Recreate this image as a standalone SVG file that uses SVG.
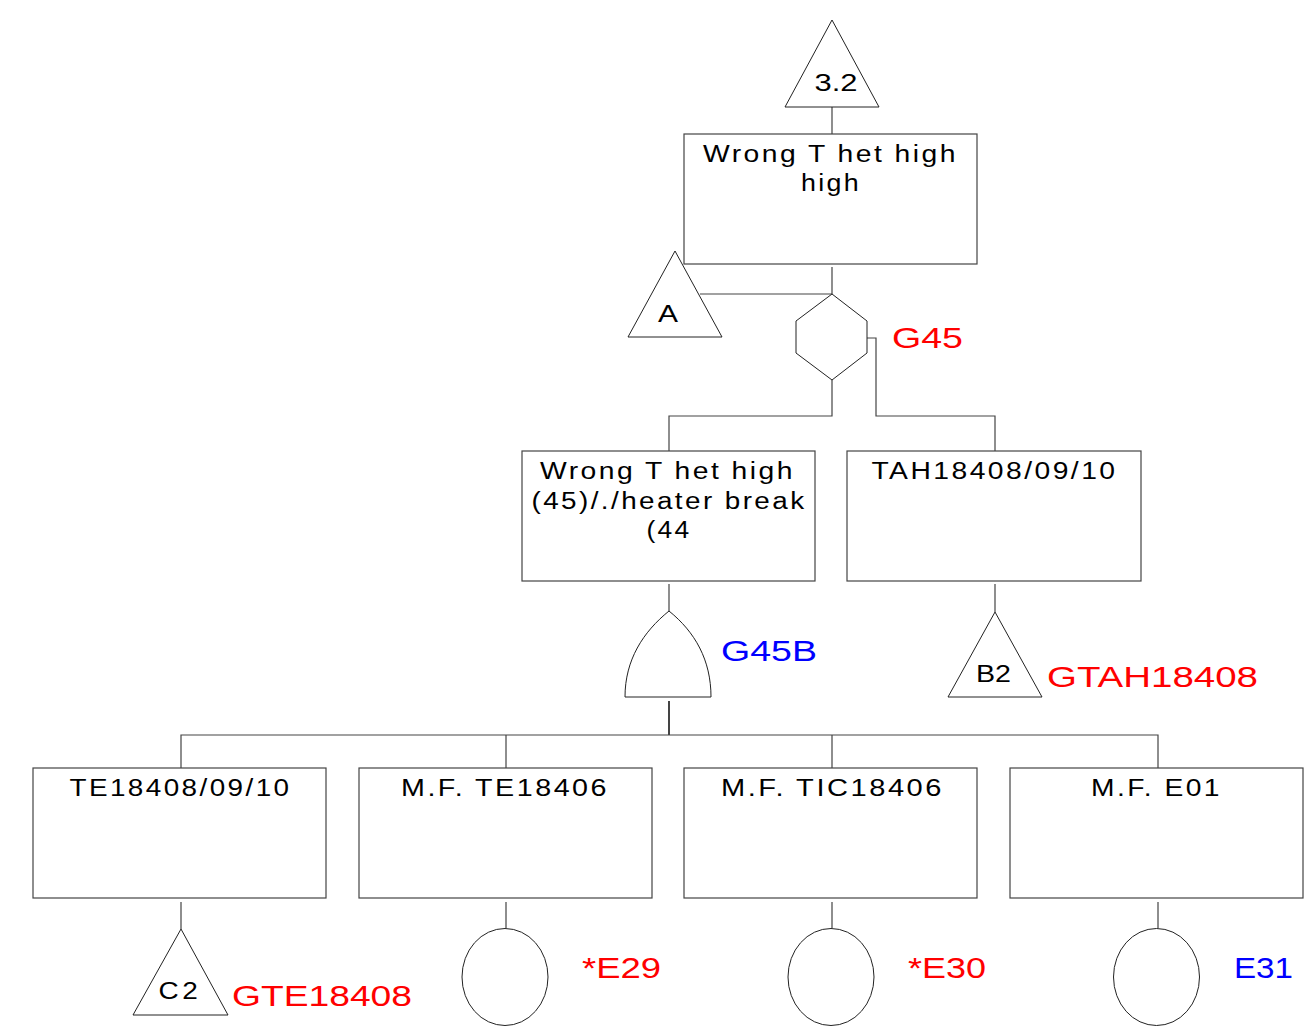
<svg xmlns="http://www.w3.org/2000/svg" width="1307" height="1030" viewBox="0 0 1307 1030">
<style>
.box{fill:#fff;stroke:#444;stroke-width:1.2}
.sym{fill:#fff;stroke:#222;stroke-width:1}
.con{fill:none;stroke:#444;stroke-width:1.2}
.t{font-family:"Liberation Sans",Arial,sans-serif;font-size:23px;fill:#000;text-anchor:middle;letter-spacing:2px}
.s{font-family:"Liberation Sans",Arial,sans-serif;font-size:23px;fill:#000;text-anchor:middle}
.lbl{font-family:"Liberation Sans",Arial,sans-serif;font-size:29px}
.red{fill:#ff0000}
.blue{fill:#0000ff}
</style>
<rect width="1307" height="1030" fill="#fff"/>
<g id="connectors">
<path class="con" d="M832,107V134"/>
<path class="con" d="M832,267V294"/>
<path class="con" d="M700,294H832"/>
<path class="con" d="M867,338H876V416H995V451"/>
<path class="con" d="M832,380V416H669V451"/>
<path class="con" d="M669,584V611"/>
<path class="con" d="M995,584V612"/>
<path class="con" d="M669,701V735" style="stroke-width:2"/>
<path class="con" d="M181,768V735H1158V768M506,735V768M832,735V768"/>
<path class="con" d="M181,902V929M506,902V928M832,902V928M1158,902V928"/>
</g>
<g id="t32">
<polygon class="sym" points="832,20 879,107 785,107"/>
<text class="s" x="836" y="91" textLength="43" lengthAdjust="spacingAndGlyphs">3.2</text>
</g>
<g id="top">
<rect class="box" x="684" y="134" width="293" height="130"/>
<text class="t" x="830.5" y="162" textLength="255" lengthAdjust="spacingAndGlyphs">Wrong T het high</text>
<text class="t" x="831" y="191" textLength="60" lengthAdjust="spacingAndGlyphs">high</text>
</g>
<g id="tA">
<polygon class="sym" points="675,251 722,337 628,337"/>
<text class="s" x="668" y="322" textLength="20" lengthAdjust="spacingAndGlyphs">A</text>
</g>
<g id="G45">
<polygon class="sym" points="832,294 867,321 867,353 832,380 796,353 796,321"/>
<text class="lbl red" x="892" y="348" textLength="71" lengthAdjust="spacingAndGlyphs">G45</text>
</g>
<g id="box2a">
<rect class="box" x="522" y="451" width="293" height="130"/>
<text class="t" x="667.5" y="479" textLength="255" lengthAdjust="spacingAndGlyphs">Wrong T het high</text>
<text class="t" x="669" y="509" textLength="275" lengthAdjust="spacingAndGlyphs">(45)/./heater break</text>
<text class="t" x="669" y="538" textLength="45" lengthAdjust="spacingAndGlyphs">(44</text>
</g>
<g id="box2b">
<rect class="box" x="847" y="451" width="294" height="130"/>
<text class="t" x="994.5" y="479" textLength="246" lengthAdjust="spacingAndGlyphs">TAH18408/09/10</text>
</g>
<g id="G45B">
<path class="sym" d="M625,697 C625,660 643,632 669,611 C695,632 711,660 711,697 Z"/>
<text class="lbl blue" x="721" y="661" textLength="96" lengthAdjust="spacingAndGlyphs">G45B</text>
</g>
<g id="B2">
<polygon class="sym" points="995,612 1042,697 948,697"/>
<text class="s" x="993.5" y="682" textLength="35" lengthAdjust="spacingAndGlyphs">B2</text>
<text class="lbl red" x="1047" y="687" textLength="211" lengthAdjust="spacingAndGlyphs">GTAH18408</text>
</g>
<g id="b1">
<rect class="box" x="33" y="768" width="293" height="130"/>
<text class="t" x="180.5" y="796" textLength="222" lengthAdjust="spacingAndGlyphs">TE18408/09/10</text>
</g>
<g id="b2">
<rect class="box" x="359" y="768" width="293" height="130"/>
<text class="t" x="505" y="796" textLength="208" lengthAdjust="spacingAndGlyphs">M.F. TE18406</text>
</g>
<g id="b3">
<rect class="box" x="684" y="768" width="293" height="130"/>
<text class="t" x="832.5" y="796" textLength="223" lengthAdjust="spacingAndGlyphs">M.F. TIC18406</text>
</g>
<g id="b4">
<rect class="box" x="1010" y="768" width="293" height="130"/>
<text class="t" x="1156.5" y="796" textLength="131" lengthAdjust="spacingAndGlyphs">M.F. E01</text>
</g>
<g id="C2">
<polygon class="sym" points="181,929 228,1015 133,1015"/>
<text class="s" x="180" y="999" textLength="43" lengthAdjust="spacingAndGlyphs" style="letter-spacing:3px">C2</text>
<text class="lbl red" x="232" y="1006" textLength="180" lengthAdjust="spacingAndGlyphs">GTE18408</text>
</g>
<g id="E29">
<ellipse class="sym" cx="505" cy="977" rx="43" ry="48.5"/>
<text class="lbl red" x="582" y="978" textLength="79" lengthAdjust="spacingAndGlyphs">*E29</text>
</g>
<g id="E30">
<ellipse class="sym" cx="831" cy="977" rx="43" ry="48.5"/>
<text class="lbl red" x="908" y="978" textLength="78" lengthAdjust="spacingAndGlyphs">*E30</text>
</g>
<g id="E31">
<ellipse class="sym" cx="1156.5" cy="977" rx="43" ry="48.5"/>
<text class="lbl blue" x="1234" y="978" textLength="59" lengthAdjust="spacingAndGlyphs">E31</text>
</g>
</svg>
